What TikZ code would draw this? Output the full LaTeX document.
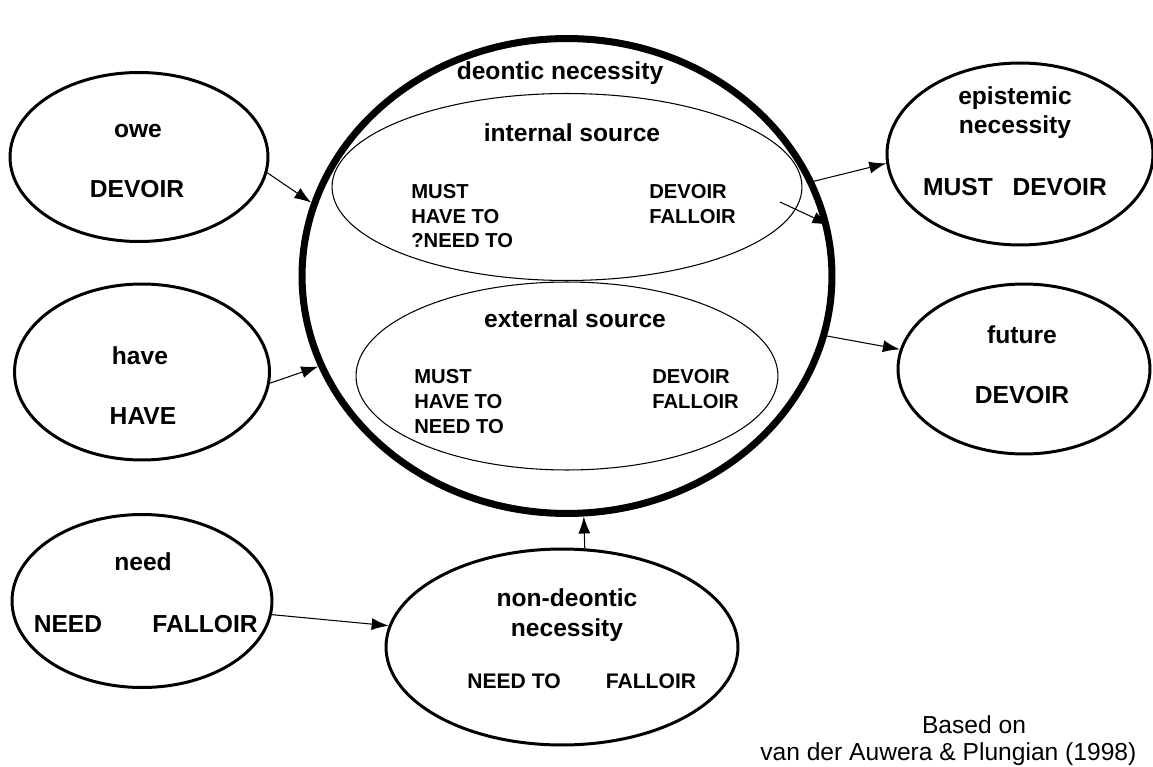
\documentclass[tikz,border=0pt]{standalone}
\usepackage{fontspec}
\setmainfont{Liberation Sans}
\usetikzlibrary{shapes.geometric,arrows.meta}

\tikzset{
  bubble/.style={ellipse,draw,line width=1.7pt,inner sep=0pt},
  source/.style={ellipse,draw,line width=0.6pt,inner sep=0pt},
  arr/.style={-{Latex[length=3.4mm,width=2.4mm]},line width=0.6pt},
  head/.style={font=\fontsize{14}{16}\selectfont\bfseries,anchor=base,inner sep=0pt},
  item/.style={font=\fontsize{11.5}{13}\selectfont\bfseries,anchor=base west,inner sep=0pt}
}

\begin{document}
\begin{tikzpicture}[x=0.02cm,y=-0.02cm]
\useasboundingbox (0,0) rectangle (1153,767);

% the big circle and its two sources
\node[bubble,line width=4pt,minimum width=10.6cm,minimum height=9.5cm] (deon) at (567,276) {};
\node[source,minimum width=9.4cm,minimum height=3.74cm] (intern) at (567,187) {};
\node[source,minimum width=8.44cm,minimum height=3.76cm] (extern) at (567,376) {};

\node[head] (deonlbl) at (560,80) {deontic necessity};
\node[head] (internlbl) at (572,141) {internal source};
\node[item] (intmust) at (411,198) {MUST};
\node[item] (inthave) at (411,223) {HAVE TO};
\node[item] (intneed) at (411,247) {?NEED TO};
\node[item] (intdevoir) at (649,198) {DEVOIR};
\node[item] (intfalloir) at (649,223) {FALLOIR};

\node[head] (externlbl) at (575,327) {external source};
\node[item] (extmust) at (414,383) {MUST};
\node[item] (exthave) at (414,408) {HAVE TO};
\node[item] (extneed) at (414,433) {NEED TO};
\node[item] (extdevoir) at (652,383) {DEVOIR};
\node[item] (extfalloir) at (652,408) {FALLOIR};

% sources on the left
\node[bubble,minimum width=5.16cm,minimum height=3.38cm] (owe) at (139,157) {};
\node[head] (owelbl) at (138,137) {owe};
\node[head] (owedevoir) at (137,197) {DEVOIR};

\node[bubble,minimum width=5.1cm,minimum height=3.52cm] (have) at (142,372) {};
\node[head] (havelbl) at (140,364) {have};
\node[head] (havehave) at (143,424) {HAVE};

\node[bubble,minimum width=5.2cm,minimum height=3.46cm] (need) at (142,601) {};
\node[head] (needlbl) at (143,570) {need};
\node[head] (needneed) at (68,632) {NEED};
\node[head] (needfalloir) at (205,632) {FALLOIR};

\node[bubble,minimum width=7.04cm,minimum height=3.92cm] (nondeon) at (562,647) {};
\node[head] (nondeonlbl) at (567,606) {non-deontic};
\node[head] (nondeonlblb) at (567,636) {necessity};
\node[head,font=\fontsize{12}{14}\selectfont\bfseries] (nondeonneed) at (514,688) {NEED TO};
\node[head,font=\fontsize{12}{14}\selectfont\bfseries] (nondeonfalloir) at (651,688) {FALLOIR};

% targets on the right
\node[bubble,minimum width=5.32cm,minimum height=3.64cm] (epist) at (1020,154) {};
\node[head] (epistlbl) at (1015,105) {epistemic};
\node[head] (epistlblb) at (1015,133) {necessity};
\node[head] (epistitems) at (1015,195) {MUST\hspace{0.8em}DEVOIR};

\node[bubble,minimum width=5.04cm,minimum height=3.4cm] (future) at (1024,369) {};
\node[head] (futurelbl) at (1022,343) {future};
\node[head] (futuredevoir) at (1022,403) {DEVOIR};

% arrows
\coordinate (intarr) at (780,202);
\draw[arr] (owe.-7) -- (deon.164);
\draw[arr] (have.-5) -- (deon.200);
\draw[arr] (need.-6) -- (nondeon.173);
\draw[arr] (nondeon.77) -- (deon.-86);
\draw[arr] (deon.21) -- (epist.184);
\draw[arr] (intarr) -- (deon.11);
\draw[arr] (deon.-13) -- (future.171);

\node[font=\fontsize{14}{16}\selectfont,anchor=base] (based) at (974,733) {Based on};
\node[font=\fontsize{14}{16}\selectfont,anchor=base west,inner sep=0pt] (source) at (760,760) {van der Auwera \& Plungian (1998)};
\end{tikzpicture}
\end{document}
